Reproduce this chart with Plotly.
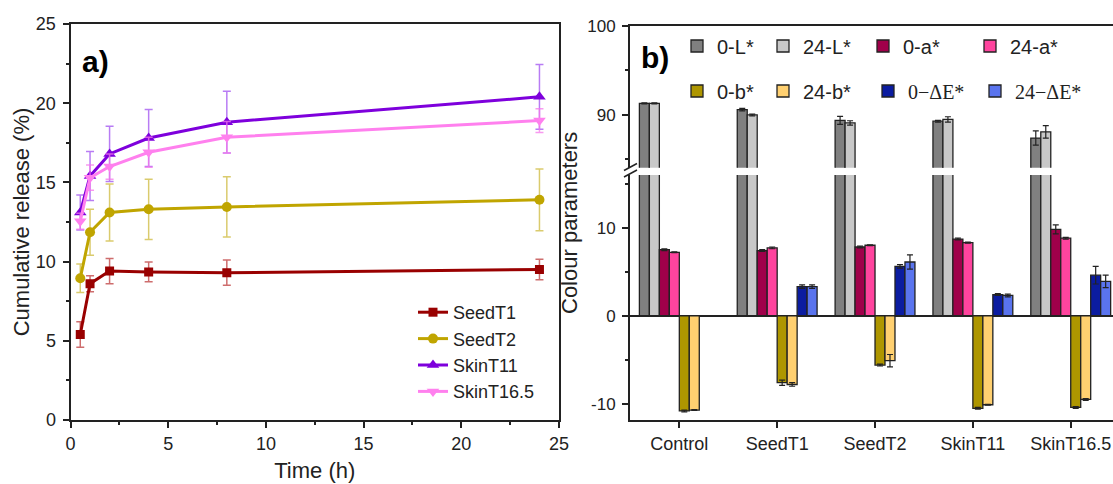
import plotly.graph_objects as go

# ---------------- Panel a data ----------------
time_h = [0.5, 1, 2, 4, 8, 24]
seedT1 = [5.4, 8.6, 9.4, 9.35, 9.3, 9.5]
seedT1_err = [0.8, 0.5, 0.8, 0.62, 0.8, 0.65]
seedT2 = [8.95, 11.85, 13.1, 13.3, 13.45, 13.9]
seedT2_err = [0.9, 1.45, 1.8, 1.9, 1.9, 1.95]
skinT11 = [13.1, 15.4, 16.8, 17.8, 18.8, 20.4]
skinT11_err = [1.1, 1.55, 1.75, 1.8, 1.95, 2.05]
skinT165 = [12.55, 15.3, 16.0, 16.9, 17.85, 18.9]
skinT165_err = [0.5, 0.8, 0.8, 0.95, 1.0, 0.75]
series_a_names = ["SeedT1", "SeedT2", "SkinT11", "SkinT16.5"]

# ---------------- Panel b data ----------------
categories = ["Control", "SeedT1", "SeedT2", "SkinT11", "SkinT16.5"]
L0 = [91.3, 90.6, 89.4, 89.3, 87.4]
L0_err = [0.05, 0.15, 0.45, 0.1, 0.8]
L24 = [91.3, 90.0, 89.1, 89.5, 88.1]
L24_err = [0.05, 0.1, 0.25, 0.3, 0.7]
a0 = [7.5, 7.4, 7.8, 8.7, 9.8]
a0_err = [0.1, 0.1, 0.1, 0.1, 0.5]
a24 = [7.2, 7.7, 8.0, 8.3, 8.8]
a24_err = [0.05, 0.1, 0.05, 0.05, 0.1]
b0 = [-10.8, -7.6, -5.6, -10.5, -10.4]
b0_err = [0.1, 0.3, 0.1, 0.1, 0.1]
b24 = [-10.7, -7.8, -5.1, -10.1, -9.5]
b24_err = [0.05, 0.2, 0.7, 0.05, 0.1]
E0 = [None, 3.3, 5.6, 2.4, 4.6]
E0_err = [None, 0.2, 0.2, 0.1, 1.0]
E24 = [None, 3.3, 6.1, 2.3, 3.9]
E24_err = [None, 0.2, 0.8, 0.15, 0.7]
series_b_names = ["0-L*", "24-L*", "0-a*", "24-a*", "0-b*", "24-b*",
                  "<span style='font-family:Liberation Serif'>0\u2212\u0394E*</span>",
                  "<span style='font-family:Liberation Serif'>24\u2212\u0394E*</span>"]

y_lower_ticks = [-10, 0, 10]
y_lower_ticktext = ["-10", "0", "10"]

# ---------------- styles ----------------
INK = "#222222"
FONT = "Liberation Sans, Arial, sans-serif"
a_styles = [
    dict(color="#990000", err="rgba(190,60,60,0.75)", symbol="square", size=9),
    dict(color="#C0A500", err="rgba(205,185,60,0.75)", symbol="circle", size=10),
    dict(color="#7E00DC", err="rgba(160,80,240,0.75)", symbol="triangle-up", size=11),
    dict(color="#FF80EE", err="rgba(245,120,235,0.75)", symbol="triangle-down", size=11),
]
b_colors = ["#808080", "#C8C8C8", "#A0004A", "#FF449E",
            "#AE9600", "#FFD070", "#0B1CA0", "#5A74EE"]
# legend entry positions for panel b (text start x, row centre y), in page pixels
b_leg_x = [717, 803, 903, 1010, 717, 803, 908, 1015]
b_leg_y = [46, 46, 46, 46, 91, 91, 91, 91]

fig = go.Figure()

a_vals = [seedT1, seedT2, skinT11, skinT165]
a_errs = [seedT1_err, seedT2_err, skinT11_err, skinT165_err]
for name, vals, errs, st in zip(series_a_names, a_vals, a_errs, a_styles):
    fig.add_trace(go.Scatter(
        x=time_h, y=vals, name=name, mode="lines+markers",
        line=dict(color=st["color"], width=3),
        marker=dict(symbol=st["symbol"], size=st["size"], color=st["color"]),
        error_y=dict(type="data", array=errs, color=st["err"], thickness=1.5, width=4),
        xaxis="x", yaxis="y", legend="legend"))

b_vals = [L0, L24, a0, a24, b0, b24, E0, E24]
b_errs = [L0_err, L24_err, a0_err, a24_err, b0_err, b24_err, E0_err, E24_err]
for i, (name, vals, errs, col) in enumerate(zip(series_b_names, b_vals, b_errs, b_colors)):
    for xa, ya, show in (("x2", "y2", True), ("x3", "y3", False)):
        fig.add_trace(go.Bar(
            x=categories, y=vals, name=name,
            marker=dict(color=col, line=dict(color=INK, width=1.3)),
            error_y=dict(type="data", array=errs, color=INK, thickness=1.2, width=3),
            xaxis=xa, yaxis=ya, showlegend=show, legendgroup=f"b{i}",
            legend=f"legend{i + 2}"))

axis_common = dict(showline=True, linewidth=2, linecolor=INK, showgrid=False,
                   zeroline=False, ticks="outside", tickwidth=1.5, tickcolor=INK,
                   ticklen=6, automargin=False)

W, H = 1113, 484
T, B = 24, 64
PH = H - T - B

def px_x(p):
    return p / W

def px_y(p):
    return (H - B - p) / PH

layout_legends = {}
for i in range(8):
    layout_legends[f"legend{i + 2}"] = dict(
        x=px_x(b_leg_x[i] - 40), y=px_y(b_leg_y[i]), xanchor="left", yanchor="middle",
        bgcolor="rgba(0,0,0,0)", font=dict(size=20))

fig.update_layout(
    width=W, height=H, margin=dict(l=0, r=0, t=T, b=B),
    paper_bgcolor="white", plot_bgcolor="white",
    font=dict(family=FONT, color=INK, size=18),
    barmode="group", bargap=0.184, bargroupgap=0,
    xaxis=dict(**axis_common, domain=[px_x(70.5), px_x(559)], range=[0, 25],
               tick0=0, dtick=5, mirror=True, anchor="y",
               minor=dict(dtick=2.5, ticks="outside", ticklen=3, tickwidth=1.5, tickcolor=INK),
               tickfont=dict(size=18),
               title=dict(text="Time (h)", font=dict(size=22), standoff=10)),
    yaxis=dict(**axis_common, domain=[0, 1], range=[0, 25], tick0=0, dtick=5,
               mirror=True, anchor="x",
               minor=dict(dtick=2.5, ticks="outside", ticklen=3, tickwidth=1.5, tickcolor=INK),
               tickfont=dict(size=18), ticklabelstandoff=3,
               title=dict(text="Cumulative release (%)", font=dict(size=22), standoff=0)),
    xaxis2=dict(**axis_common, domain=[px_x(630), 1.0], range=[-0.504, 4.432],
                type="category", anchor="y2", tickfont=dict(size=18)),
    yaxis2=dict(**axis_common, domain=[0, px_y(175)], range=[-11.83, 15.97],
                anchor="x2", tickvals=y_lower_ticks, ticktext=y_lower_ticktext,
                minor=dict(dtick=5, tick0=0, ticks="outside", ticklen=3, tickwidth=1.5, tickcolor=INK),
                tickfont=dict(size=17), ticklabelstandoff=3),
    xaxis3=dict(showline=True, linewidth=2, linecolor=INK, domain=[px_x(630), 1.0],
                range=[-0.504, 4.432], type="category", anchor="y3", side="top",
                showticklabels=False, ticks="", showgrid=False, zeroline=False),
    yaxis3=dict(**axis_common, domain=[px_y(167.7), px_y(26)], range=[84.07, 100],
                anchor="x3", tick0=0, dtick=10,
                minor=dict(dtick=5, tick0=0, ticks="outside", ticklen=3, tickwidth=1.5, tickcolor=INK),
                tickfont=dict(size=17), ticklabelstandoff=3),
    legend=dict(x=px_x(413), y=px_y(294), xanchor="left", yanchor="top",
                bgcolor="rgba(0,0,0,0)", font=dict(size=18), tracegroupgap=0),
    **layout_legends,
)
fig.update_yaxes(selector=dict(anchor="x2"), zeroline=True, zerolinecolor=INK, zerolinewidth=1.5)

# panel labels and shared axis title of panel b
fig.add_annotation(text="<b>a)</b>", x=px_x(95), y=px_y(62), xref="paper", yref="paper",
                   xanchor="center", yanchor="middle",
                   showarrow=False, font=dict(size=30, family=FONT, color="black"))
fig.add_annotation(text="<b>b)</b>", x=px_x(655), y=px_y(57), xref="paper", yref="paper",
                   xanchor="center", yanchor="middle",
                   showarrow=False, font=dict(size=30, family=FONT, color="black"))
fig.add_annotation(text="Colour parameters", x=px_x(569), y=px_y(223), xref="paper", yref="paper",
                   xanchor="center", yanchor="middle",
                   showarrow=False, textangle=-90, font=dict(size=22, family=FONT, color=INK))

# axis-break marks on panel b's left axis
for y0 in (170.5, 177):
    fig.add_shape(type="line", xref="paper", yref="paper",
                  x0=px_x(624), y0=px_y(y0), x1=px_x(637), y1=px_y(y0 - 7),
                  line=dict(color=INK, width=1.5))

fig.write_html("out.html", config={"displayModeBar": False},
               post_script="document.body.style.margin='0';document.body.style.overflow='hidden';")
